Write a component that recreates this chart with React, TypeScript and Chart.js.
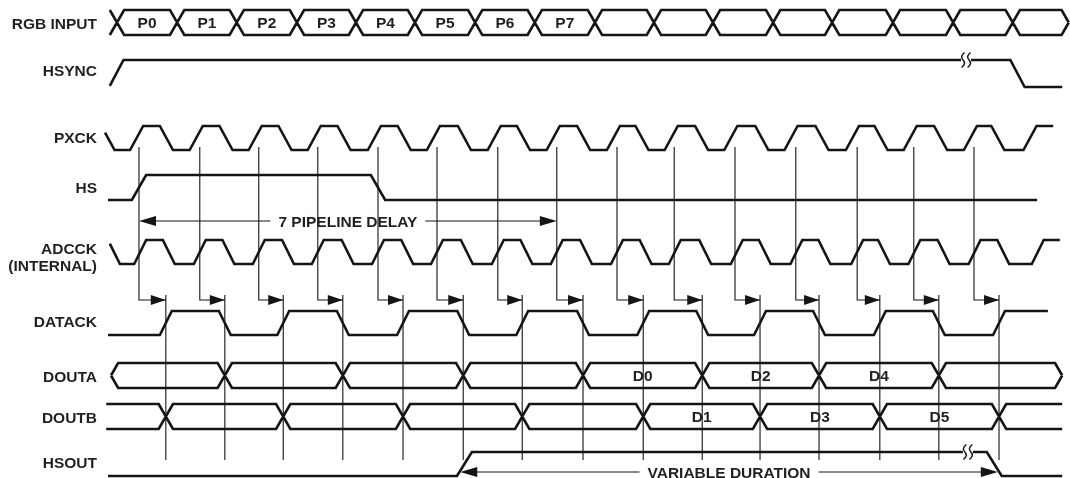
import { useEffect, useRef } from "react";
import { Chart, registerables } from "chart.js";

Chart.register(...registerables);

// ---------------- data (time in clock periods, 0 = first PXCK edge marker) ----------------
const signalNames = ["RGB INPUT", "HSYNC", "PXCK", "HS", "ADCCK", "(INTERNAL)", "DATACK", "DOUTA", "DOUTB", "HSOUT"];

const rgbCrossings = [-0.37, 0.64, 1.64, 2.65, 3.64, 4.63, 5.64, 6.64, 7.65, 8.64, 9.63, 10.64, 11.63, 12.65, 13.66, 14.66];
const rgbLabels = ["P0", "P1", "P2", "P3", "P4", "P5", "P6", "P7", "", "", "", "", "", "", "", ""];
const rgbEnd = 15.6;

const hsyncEdges = [-0.38, 14.74];
const hsyncSpan = [-0.49, 15.49];
const hsyncBreak = 13.86;

const pxckRises = [-0.04, 0.96, 1.95, 2.94, 3.95, 4.94, 5.96, 6.95, 7.96, 8.93, 9.93, 10.94, 11.97, 12.94, 13.95, 14.95];
const pxckFalls = [-0.52, 0.46, 1.46, 2.45, 3.44, 4.45, 5.46, 6.45, 7.46, 8.44, 9.44, 10.45, 11.46, 12.45, 13.45, 14.41];
const pxckSpan = [-0.57, 15.34];

const hsEdges = [0.0, 4.01];
const hsSpan = [-0.52, 15.07];

const adcckRises = [0.02, 1.02, 2.01, 3.0, 4.01, 5.0, 6.02, 7.01, 8.02, 8.99, 10.03, 11.03, 12.05, 13.01, 14.02, 15.08];
const adcckFalls = [-0.42, 0.5, 1.5, 2.5, 3.5, 4.5, 5.5, 6.5, 7.5, 8.5, 9.5, 10.5, 11.5, 12.5, 13.5, 14.5];
const adcckSpan = [-0.49, 15.45];

const pxckMarkers = [0, 1.02, 2.01, 3.0, 4.01, 5.0, 6.02, 7.01, 8.02, 8.98, 10.0, 11.02, 12.05, 13.0, 14.01];
const datackEdges = [0.45, 1.44, 2.42, 3.42, 4.43, 5.44, 6.43, 7.45, 8.46, 9.45, 10.42, 11.41, 12.43, 13.42, 14.43];
const datackSpan = [-0.52, 15.25];

const doutaCrossings = [1.44, 3.42, 5.44, 7.45, 9.45, 11.41, 13.42];
const doutaLabels = ["", "", "", "", "D0", "D2", "D4", ""];
const doutaSpan = [-0.47, 15.49];

const doutbCrossings = [0.45, 2.42, 4.43, 6.43, 8.46, 10.42, 12.43, 14.43];
const doutbLabels = ["", "", "", "", "", "D1", "D3", "D5", ""];
const doutbSpan = [-0.55, 15.49];

const hsoutEdges = [5.46, 14.35];
const hsoutSpan = [-0.52, 15.49];
const hsoutBreak = 13.89;

const pipelineDelay = [0, 7.01];
const pipelineText = "7 PIPELINE DELAY";
const variableDuration = [5.39, 14.41];
const variableText = "VARIABLE DURATION";

// ---------------- layout / style ----------------
const W = 1070;
const H = 478;
const ORIGIN_PX = 139;
const PERIOD_PX = 59.6;
const X_MIN = -ORIGIN_PX / PERIOD_PX;
const X_MAX = X_MIN + W / PERIOD_PX;

const INK = "#151515";
const TEXT = "#231f20";
const FONT = "bold 15.5px 'Liberation Sans', Arial, Helvetica, sans-serif";
const SIG_W = 2.6;
const LABEL_RIGHT = 97;
const labelCenters = [23, 70, 137, 187, 248, 265, 321, 376, 417, 462];

const rgbRow = { top: 10, bot: 35 };
const hsyncRow = { hi: 60, lo: 87 };
const pxckRow = { hi: 126, lo: 150 };
const hsRow = { hi: 175, lo: 200 };
const pipelineY = 221;
const adcckRow = { hi: 240, lo: 264 };
const markerTop = 147;
const arrowY = 300;
const datackTop = 295;
const datackBottom = 460;
const datackRow = { hi: 311, lo: 335 };
const doutaRow = { top: 363, bot: 388 };
const doutbRow = { top: 404, bot: 429 };
const hsoutRow = { hi: 452, lo: 476 };
const variableY = 472;
const BUS_H = 0.12;

type Pt = { x: number; y: number | null };

function clip(pts: Pt[], a: number, b: number): Pt[] {
  const out: Pt[] = [];
  for (let i = 0; i < pts.length - 1; i++) {
    const p = pts[i];
    const q = pts[i + 1];
    if (q.x < a || p.x > b) continue;
    const lerp = (t: number) => (p.y as number) + (((q.y as number) - (p.y as number)) * (t - p.x)) / (q.x - p.x || 1);
    if (out.length === 0) {
      const sx = Math.max(a, p.x);
      out.push({ x: sx, y: lerp(sx) });
    }
    const qx = Math.min(b, q.x);
    out.push({ x: qx, y: lerp(qx) });
  }
  return out;
}

function digital(span: number[], edges: number[], startHigh: boolean, w: number, hi: number, lo: number): Pt[] {
  const sorted = [...edges].sort((a, b) => a - b);
  let level = startHigh;
  const full: Pt[] = [{ x: -100, y: level ? hi : lo }];
  for (const e of sorted) {
    full.push({ x: e - w / 2, y: level ? hi : lo });
    level = !level;
    full.push({ x: e + w / 2, y: level ? hi : lo });
  }
  full.push({ x: 100, y: level ? hi : lo });
  return clip(full, span[0], span[1]);
}

function bus(start: number, startKind: string, crossings: number[], end: number, endKind: string, top: number, bot: number): Pt[] {
  const mid = (top + bot) / 2;
  const h = BUS_H;
  const A: Pt[] = [];
  const B: Pt[] = [];
  let aTop = true;
  if (startKind === "open") {
    A.push({ x: start, y: top });
    B.push({ x: start, y: bot });
  } else if (startKind === "point") {
    A.push({ x: start, y: mid }, { x: start + h, y: top });
    B.push({ x: start, y: mid }, { x: start + h, y: bot });
  } else {
    aTop = false;
  }
  for (const c of crossings) {
    A.push({ x: c - h, y: aTop ? top : bot });
    B.push({ x: c - h, y: aTop ? bot : top });
    aTop = !aTop;
    A.push({ x: c + h, y: aTop ? top : bot });
    B.push({ x: c + h, y: aTop ? bot : top });
  }
  if (endKind === "open") {
    A.push({ x: end, y: aTop ? top : bot });
    B.push({ x: end, y: aTop ? bot : top });
  } else {
    A.push({ x: end - h, y: aTop ? top : bot }, { x: end, y: mid });
    B.push({ x: end - h, y: aTop ? bot : top }, { x: end, y: mid });
  }
  return [...A, { x: end, y: null }, ...B];
}

function markerLines(): Pt[] {
  const pts: Pt[] = [];
  pxckMarkers.forEach((t, i) => {
    pts.push({ x: t, y: markerTop }, { x: t, y: arrowY }, { x: datackEdges[i], y: arrowY }, { x: t, y: null });
  });
  return pts;
}

function datackLines(): Pt[] {
  const pts: Pt[] = [];
  datackEdges.forEach((t) => {
    pts.push({ x: t, y: datackTop }, { x: t, y: datackBottom }, { x: t, y: null });
  });
  return pts;
}

function ds(data: Pt[], width: number) {
  return {
    data,
    showLine: true,
    borderColor: INK,
    backgroundColor: INK,
    borderWidth: width,
    pointRadius: 0,
    pointHoverRadius: 0,
    spanGaps: false,
    clip: false as any,
    fill: false,
    tension: 0,
    borderJoinStyle: "miter" as const,
  };
}

function arrowHead(ctx: CanvasRenderingContext2D, tipX: number, y: number, dir: number, len: number, half: number) {
  ctx.beginPath();
  ctx.moveTo(tipX, y);
  ctx.lineTo(tipX - dir * len, y - half);
  ctx.lineTo(tipX - dir * len, y + half);
  ctx.closePath();
  ctx.fill();
}

function breakMark(ctx: CanvasRenderingContext2D, x: number, y: number) {
  ctx.save();
  ctx.fillStyle = "#ffffff";
  ctx.fillRect(x - 4, y - 3, 10, 6);
  ctx.strokeStyle = INK;
  ctx.lineWidth = 1.5;
  for (const dx of [-2, 4]) {
    const cx = x + dx;
    ctx.beginPath();
    ctx.moveTo(cx + 1.5, y - 7.5);
    ctx.quadraticCurveTo(cx - 3.5, y - 3.5, cx, y);
    ctx.quadraticCurveTo(cx + 3.5, y + 3.5, cx - 1.5, y + 7.5);
    ctx.stroke();
  }
  ctx.restore();
}

function dimension(ctx: CanvasRenderingContext2D, x1: number, x2: number, y: number, text: string) {
  ctx.save();
  ctx.font = FONT;
  const tw = ctx.measureText(text).width;
  const cx = (x1 + x2) / 2;
  const gap = 8;
  ctx.strokeStyle = INK;
  ctx.lineWidth = 1;
  ctx.beginPath();
  ctx.moveTo(x1 + 10, y);
  ctx.lineTo(cx - tw / 2 - gap, y);
  ctx.moveTo(cx + tw / 2 + gap, y);
  ctx.lineTo(x2 - 10, y);
  ctx.stroke();
  ctx.fillStyle = INK;
  arrowHead(ctx, x1, y, -1, 17, 5);
  arrowHead(ctx, x2, y, 1, 17, 5);
  ctx.fillStyle = TEXT;
  ctx.textAlign = "center";
  ctx.textBaseline = "alphabetic";
  ctx.fillText(text, cx, y + 5.5);
  ctx.restore();
}

const annotations = {
  id: "timingAnnotations",
  afterDatasetsDraw(chart: any) {
    const ctx: CanvasRenderingContext2D = chart.ctx;
    const xs = chart.scales.x;
    const ys = chart.scales.y;
    const px = (t: number) => xs.getPixelForValue(t);
    const py = (v: number) => ys.getPixelForValue(v);
    ctx.save();
    // signal names
    ctx.font = FONT;
    ctx.fillStyle = TEXT;
    ctx.textAlign = "right";
    ctx.textBaseline = "alphabetic";
    signalNames.forEach((n, i) => ctx.fillText(n, LABEL_RIGHT, labelCenters[i] + 5.5));

    // bus labels
    ctx.textAlign = "center";
    const segLabels = (bounds: number[], labels: string[], yc: number) => {
      labels.forEach((l, i) => {
        if (!l) return;
        const cx = (px(bounds[i]) + px(bounds[i + 1])) / 2;
        ctx.fillText(l, cx, py(yc) + 5.5);
      });
    };
    segLabels([...rgbCrossings, rgbEnd], rgbLabels, (rgbRow.top + rgbRow.bot) / 2);
    segLabels([doutaSpan[0], ...doutaCrossings, doutaSpan[1]], doutaLabels, (doutaRow.top + doutaRow.bot) / 2);
    segLabels([doutbSpan[0], ...doutbCrossings, doutbSpan[1]], doutbLabels, (doutbRow.top + doutbRow.bot) / 2);

    // small arrows from PXCK markers to DATACK edges
    ctx.fillStyle = INK;
    datackEdges.forEach((t) => arrowHead(ctx, px(t), py(arrowY), 1, 15, 5));

    // dimension arrows
    dimension(ctx, px(pipelineDelay[0]), px(pipelineDelay[1]), py(pipelineY), pipelineText);
    dimension(ctx, px(variableDuration[0]), px(variableDuration[1]), py(variableY), variableText);

    // break marks
    breakMark(ctx, px(hsyncBreak), py(hsyncRow.hi));
    breakMark(ctx, px(hsoutBreak), py(hsoutRow.hi));
    ctx.restore();
  },
};

export default function App() {
  const ref = useRef<HTMLCanvasElement | null>(null);
  useEffect(() => {
    document.body.style.margin = "0";
    const canvas = ref.current;
    if (!canvas) return;
    const datasets = [
      ds(markerLines(), 1.1),
      ds(datackLines(), 1.1),
      ds(bus(rgbCrossings[0] - BUS_H, "x", rgbCrossings, rgbEnd, "point", rgbRow.top, rgbRow.bot), SIG_W),
      ds(digital(hsyncSpan, hsyncEdges, false, 0.24, hsyncRow.hi, hsyncRow.lo), SIG_W),
      ds(digital(pxckSpan, [...pxckRises, ...pxckFalls], true, 0.22, pxckRow.hi, pxckRow.lo), SIG_W),
      ds(digital(hsSpan, hsEdges, false, 0.24, hsRow.hi, hsRow.lo), SIG_W),
      ds(digital(adcckSpan, [...adcckRises, ...adcckFalls], true, 0.2, adcckRow.hi, adcckRow.lo), SIG_W),
      ds(digital(datackSpan, datackEdges, false, 0.2, datackRow.hi, datackRow.lo), SIG_W),
      ds(bus(doutaSpan[0], "point", doutaCrossings, doutaSpan[1], "point", doutaRow.top, doutaRow.bot), SIG_W),
      ds(bus(doutbSpan[0], "open", doutbCrossings, doutbSpan[1], "open", doutbRow.top, doutbRow.bot), SIG_W),
      ds(digital(hsoutSpan, hsoutEdges, false, 0.25, hsoutRow.hi, hsoutRow.lo), SIG_W),
    ];
    const chart = new Chart(canvas, {
      type: "scatter",
      data: { datasets: datasets as any },
      options: {
        animation: false,
        responsive: false,
        maintainAspectRatio: false,
        events: [],
        layout: { padding: 0 },
        plugins: { legend: { display: false }, tooltip: { enabled: false } },
        scales: {
          x: { type: "linear", display: false, min: X_MIN, max: X_MAX },
          y: { type: "linear", display: false, min: 0, max: H, reverse: true },
        },
      },
      plugins: [annotations],
    });
    return () => chart.destroy();
  }, []);
  return (
    <div style={{ width: W, height: H, background: "#fff" }}>
      <canvas ref={ref} width={W} height={H} style={{ display: "block", width: W, height: H }} />
    </div>
  );
}
